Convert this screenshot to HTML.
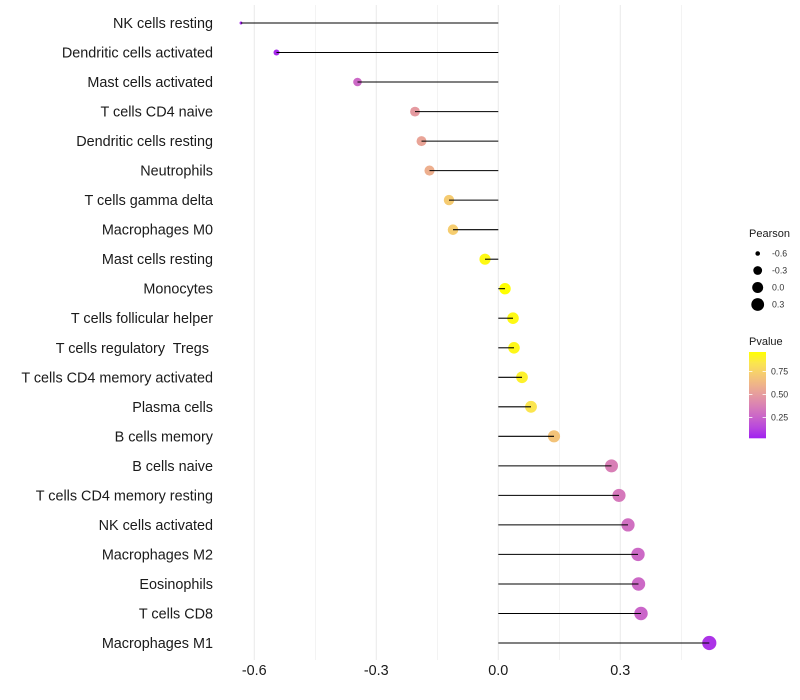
<!DOCTYPE html>
<html><head><meta charset="utf-8"><style>
html,body{margin:0;padding:0;background:#fff;}
svg{display:block;}
text{font-family:"Liberation Sans",Arial,sans-serif;}
</style></head><body>
<svg width="800" height="700" viewBox="0 0 800 700" xmlns="http://www.w3.org/2000/svg">
<defs>
<linearGradient id="pg" x1="0" y1="1" x2="0" y2="0">
<stop offset="0" stop-color="rgb(160,32,240)"/>
<stop offset="0.125" stop-color="rgb(184,71,221)"/>
<stop offset="0.25" stop-color="rgb(202,101,201)"/>
<stop offset="0.375" stop-color="rgb(217,128,181)"/>
<stop offset="0.5" stop-color="rgb(229,154,160)"/>
<stop offset="0.625" stop-color="rgb(239,180,137)"/>
<stop offset="0.75" stop-color="rgb(246,205,111)"/>
<stop offset="0.875" stop-color="rgb(251,230,78)"/>
<stop offset="1" stop-color="rgb(255,255,0)"/>
</linearGradient>
</defs>
<rect width="800" height="700" fill="#fff"/>
<!-- grid -->
<g stroke="#ebebeb">
<line x1="315.3" y1="5" x2="315.3" y2="660" stroke-width="0.6"/>
<line x1="437.3" y1="5" x2="437.3" y2="660" stroke-width="0.6"/>
<line x1="559.3" y1="5" x2="559.3" y2="660" stroke-width="0.6"/>
<line x1="681.3" y1="5" x2="681.3" y2="660" stroke-width="0.6"/>
<line x1="254.3" y1="5" x2="254.3" y2="660" stroke-width="1.1"/>
<line x1="376.3" y1="5" x2="376.3" y2="660" stroke-width="1.1"/>
<line x1="498.3" y1="5" x2="498.3" y2="660" stroke-width="1.1"/>
<line x1="620.3" y1="5" x2="620.3" y2="660" stroke-width="1.1"/>
</g>
<!-- points -->
<g>
<circle cx="241" cy="23" r="1.45" fill="rgb(164,38,237)"/>
<circle cx="276.5" cy="52.5" r="3.0" fill="rgb(166,41,235)"/>
<circle cx="357.5" cy="82.0" r="4.3" fill="rgb(204,105,198)"/>
<circle cx="415" cy="111.6" r="4.9" fill="rgb(229,154,160)"/>
<circle cx="421.5" cy="141.1" r="4.97" fill="rgb(233,164,151)"/>
<circle cx="429.5" cy="170.6" r="5.05" fill="rgb(237,175,142)"/>
<circle cx="449" cy="200.1" r="5.2" fill="rgb(245,203,113)"/>
<circle cx="453" cy="229.7" r="5.27" fill="rgb(246,205,111)"/>
<circle cx="485" cy="259.2" r="5.55" fill="rgb(254,249,19)"/>
<circle cx="505" cy="288.7" r="5.72" fill="rgb(255,255,0)"/>
<circle cx="513" cy="318.2" r="5.78" fill="rgb(254,249,19)"/>
<circle cx="514" cy="347.8" r="5.79" fill="rgb(254,247,25)"/>
<circle cx="522" cy="377.3" r="5.85" fill="rgb(253,241,44)"/>
<circle cx="531" cy="406.8" r="5.93" fill="rgb(251,229,79)"/>
<circle cx="554" cy="436.3" r="6.1" fill="rgb(243,195,121)"/>
<circle cx="611.5" cy="465.9" r="6.5" fill="rgb(216,127,182)"/>
<circle cx="619" cy="495.4" r="6.57" fill="rgb(213,120,187)"/>
<circle cx="628" cy="524.9" r="6.63" fill="rgb(208,112,193)"/>
<circle cx="638" cy="554.4" r="6.69" fill="rgb(204,105,198)"/>
<circle cx="638.5" cy="584.0" r="6.7" fill="rgb(204,105,198)"/>
<circle cx="641" cy="613.5" r="6.72" fill="rgb(202,101,201)"/>
<circle cx="709.3" cy="643.0" r="7.1" fill="rgb(172,51,231)"/>
</g>
<!-- stems -->
<g stroke="#000" stroke-width="1.07">
<line x1="241" y1="23" x2="498.3" y2="23"/>
<line x1="276.5" y1="52.5" x2="498.3" y2="52.5"/>
<line x1="357.5" y1="82.0" x2="498.3" y2="82.0"/>
<line x1="415" y1="111.6" x2="498.3" y2="111.6"/>
<line x1="421.5" y1="141.1" x2="498.3" y2="141.1"/>
<line x1="429.5" y1="170.6" x2="498.3" y2="170.6"/>
<line x1="449" y1="200.1" x2="498.3" y2="200.1"/>
<line x1="453" y1="229.7" x2="498.3" y2="229.7"/>
<line x1="485" y1="259.2" x2="498.3" y2="259.2"/>
<line x1="498.3" y1="288.7" x2="505" y2="288.7"/>
<line x1="498.3" y1="318.2" x2="513" y2="318.2"/>
<line x1="498.3" y1="347.8" x2="514" y2="347.8"/>
<line x1="498.3" y1="377.3" x2="522" y2="377.3"/>
<line x1="498.3" y1="406.8" x2="531" y2="406.8"/>
<line x1="498.3" y1="436.3" x2="554" y2="436.3"/>
<line x1="498.3" y1="465.9" x2="611.5" y2="465.9"/>
<line x1="498.3" y1="495.4" x2="619" y2="495.4"/>
<line x1="498.3" y1="524.9" x2="628" y2="524.9"/>
<line x1="498.3" y1="554.4" x2="638" y2="554.4"/>
<line x1="498.3" y1="584.0" x2="638.5" y2="584.0"/>
<line x1="498.3" y1="613.5" x2="641" y2="613.5"/>
<line x1="498.3" y1="643.0" x2="709.3" y2="643.0"/>
</g>
<!-- y labels -->
<g font-size="14.4" fill="#1a1a1a" text-anchor="end">
<text x="213" y="28">NK cells resting</text>
<text x="213" y="57.5">Dendritic cells activated</text>
<text x="213" y="87">Mast cells activated</text>
<text x="213" y="116.6">T cells CD4 naive</text>
<text x="213" y="146.1">Dendritic cells resting</text>
<text x="213" y="175.6">Neutrophils</text>
<text x="213" y="205.1">T cells gamma delta</text>
<text x="213" y="234.7">Macrophages M0</text>
<text x="213" y="264.2">Mast cells resting</text>
<text x="213" y="293.7">Monocytes</text>
<text x="213" y="323.2">T cells follicular helper</text>
<text x="213" y="352.8" xml:space="preserve">T cells regulatory  Tregs </text>
<text x="213" y="382.3">T cells CD4 memory activated</text>
<text x="213" y="411.8">Plasma cells</text>
<text x="213" y="441.3">B cells memory</text>
<text x="213" y="470.9">B cells naive</text>
<text x="213" y="500.4">T cells CD4 memory resting</text>
<text x="213" y="529.9">NK cells activated</text>
<text x="213" y="559.4">Macrophages M2</text>
<text x="213" y="589">Eosinophils</text>
<text x="213" y="618.5">T cells CD8</text>
<text x="213" y="648">Macrophages M1</text>
</g>
<!-- x ticks -->
<g font-size="14.4" fill="#1a1a1a" text-anchor="middle">
<text x="254.3" y="675">-0.6</text>
<text x="376.3" y="675">-0.3</text>
<text x="498.3" y="675">0.0</text>
<text x="620.3" y="675">0.3</text>
</g>
<!-- legend: Pearson -->
<text x="749" y="237" font-size="11" fill="#1a1a1a">Pearson</text>
<g fill="#000">
<circle cx="757.7" cy="253.5" r="2.3"/>
<circle cx="757.7" cy="270.5" r="4.4"/>
<circle cx="757.7" cy="287.5" r="5.5"/>
<circle cx="757.7" cy="304.5" r="6.4"/>
</g>
<g font-size="8.8" fill="#333">
<text x="772" y="256.6">-0.6</text>
<text x="772" y="273.6">-0.3</text>
<text x="772" y="290.6">0.0</text>
<text x="772" y="307.6">0.3</text>
</g>
<!-- legend: Pvalue -->
<text x="749" y="345" font-size="11" fill="#1a1a1a">Pvalue</text>
<rect x="749" y="352" width="17" height="86.3" fill="url(#pg)"/>
<g stroke="#fff" stroke-width="0.8">
<line x1="749" y1="371.5" x2="752.4" y2="371.5"/>
<line x1="762.6" y1="371.5" x2="766" y2="371.5"/>
<line x1="749" y1="394.5" x2="752.4" y2="394.5"/>
<line x1="762.6" y1="394.5" x2="766" y2="394.5"/>
<line x1="749" y1="417.5" x2="752.4" y2="417.5"/>
<line x1="762.6" y1="417.5" x2="766" y2="417.5"/>
</g>
<g font-size="8.8" fill="#333">
<text x="771" y="374.6">0.75</text>
<text x="771" y="397.6">0.50</text>
<text x="771" y="420.6">0.25</text>
</g>
</svg>
</body></html>
